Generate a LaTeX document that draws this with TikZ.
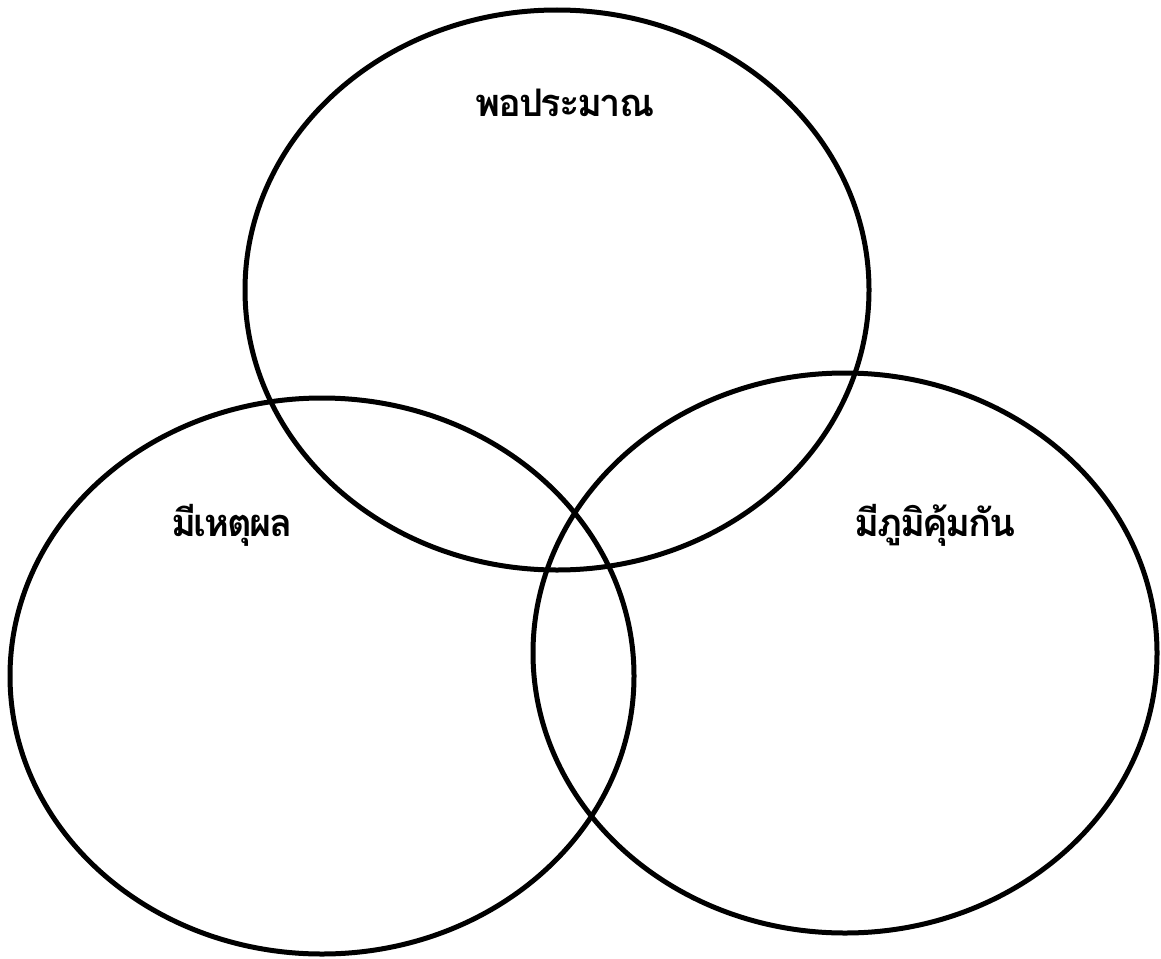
\documentclass[tikz,border=0pt]{standalone}
\usepackage{fontspec}
\newfontfamily\thaifont[Script=Thai,LetterSpace=-6]{Loma}
\begin{document}
\begin{tikzpicture}[x=1pt,y=-1pt,
  venn/.style={draw=black,line width=5pt},
  lbl/.style={font=\thaifont\bfseries\fontsize{38}{44}\selectfont,inner sep=0pt}]
\useasboundingbox (0,0) rectangle (1161,958);
\draw[venn] (557,290) ellipse [x radius=312, y radius=280];
\draw[venn] (322,676) ellipse [x radius=312, y radius=278];
\draw[venn] (845,653) ellipse [x radius=312, y radius=280];
\node[lbl] (t) at (565,103) {พอประมาณ};
\node[lbl] (l) at (232,525) {มีเหตุผล};
\node[lbl] (r) at (935,525) {มีภูมิคุ้มกัน};
\end{tikzpicture}
\end{document}
